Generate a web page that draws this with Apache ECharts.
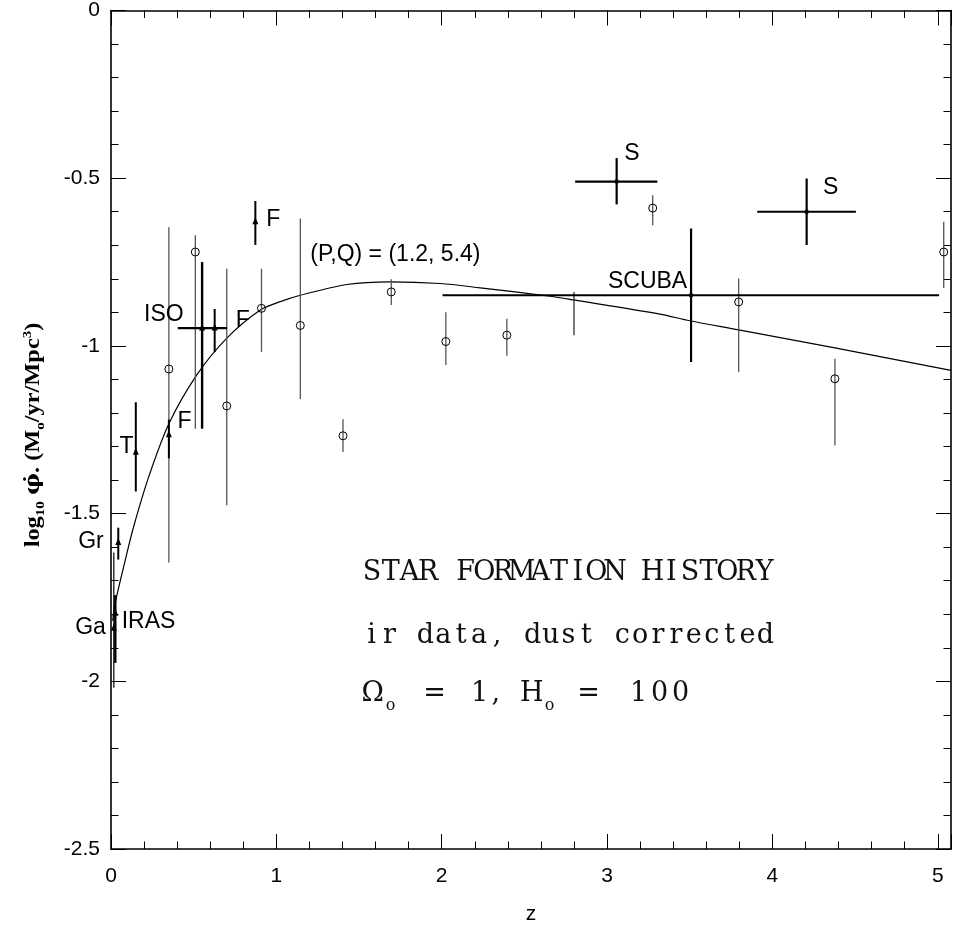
<!DOCTYPE html>
<html><head><meta charset="utf-8">
<script src="https://cdn.jsdelivr.net/npm/echarts/dist/echarts.min.js"></script>
<style>html,body{margin:0;padding:0;background:#fff}#c{width:954px;height:930px}</style>
</head><body><div id="c"></div>
<script>
// ---- axis ranges / ticks ----
const xMin = 0, xMax = 5.08, xStep = 1;
const yMin = -2.5, yMax = 0, yStep = 0.5;

// ---- open circles (z, value, error bar low/high) ----
const circZ  = [0.35, 0.51, 0.70, 0.91, 1.145, 1.403, 1.695, 2.025, 2.394, 3.276, 3.796, 4.378, 5.036];
const circV  = [-1.069, -0.720, -1.179, -0.888, -0.939, -1.268, -0.839, -0.987, -0.968, -0.589, -0.869, -1.098, -0.720];
const circLo = [-1.646, -1.247, -1.475, -1.018, -1.158, -1.316, -0.878, -1.057, -1.029, -0.640, -1.078, -1.297, -0.827];
const circHi = [-0.646, -0.670, -0.770, -0.770, -0.620, -1.219, -0.801, -0.900, -0.919, -0.551, -0.799, -1.038, -0.630];

// ---- bare error bar (no marker) ----
const bareZ = [2.80], bareLo = [-0.968], bareHi = [-0.839];

// ---- filled triangles ----
const triZ   = [0.15, 0.35, 0.873, 0.044, 0.017, 0.026, 0.551, 0.627];
const triV   = [-1.317, -1.265, -0.630, -1.586, -1.842, -1.797, -0.947, -0.947];
const triLo  = [-1.434, -1.335, -0.699, -1.637, -2.019, -1.945, -1.247, -1.018];
const triHi  = [-1.168, -1.220, -0.568, -1.542, -1.616, -1.743, -0.750, -0.890];
const triZLo = [0.15, 0.35, 0.873, 0.044, 0.017, 0.026, 0.404, 0.627];
const triZHi = [0.15, 0.35, 0.873, 0.044, 0.017, 0.026, 0.702, 0.627];
const triW   = [2, 2, 2, 2, 1.2, 2.4, 2.4, 2];

// ---- dot points with x and y bars (S, S, SCUBA) ----
const dotZ   = [3.058, 4.207, 3.508];
const dotV   = [-0.510, -0.600, -0.849];
const dotLo  = [-0.578, -0.699, -1.048];
const dotHi  = [-0.440, -0.501, -0.650];
const dotZLo = [2.807, 3.908, 2.005];
const dotZHi = [3.304, 4.505, 5.008];

// ---- model curve (P,Q) = (1.2, 5.4) ----
const curveZ = [0.01, 0.027, 0.088, 0.138, 0.229, 0.35, 0.521, 0.702, 0.903, 1.024, 1.145, 1.427, 1.689, 1.99, 2.233, 2.656, 2.80, 3.32, 3.50, 3.796, 4.378, 5.08];
const curveV = [-1.82, -1.763, -1.635, -1.537, -1.389, -1.232, -1.085, -0.976, -0.893, -0.868, -0.849, -0.817, -0.809, -0.814, -0.827, -0.852, -0.863, -0.905, -0.925, -0.952, -1.006, -1.073];

// ---- point labels ----
const labText = ['S', 'S', '(P,Q) = (1.2, 5.4)', 'SCUBA', 'ISO', 'F', 'F', 'T', 'F', 'Gr', 'Ga', 'IRAS'];
const labZ    = [3.151, 4.353, 1.205, 3.245, 0.320, 0.797, 0.444, 0.094, 0.982, -0.121, -0.124, 0.227];
const labV    = [-0.428, -0.528, -0.729, -0.807, -0.906, -0.924, -1.225, -1.301, -0.624, -1.584, -1.841, -1.822];
const labAlign= ['center','center','left','center','center','center','center','center','center','center','center','center'];

// ---- annotation block ----
const note1 = 'STAR FORMATION HISTORY';
const note2 = 'ir data, dust corrected';
const note3 = ['Ω', 'o', '=', '1', ',', 'H', 'o', '=', '1', '0', '0'];
const noteZ = 1.522;
const noteV = [-1.678, -1.864, -2.038];

const chart = echarts.init(document.getElementById('c'), null, {renderer: 'canvas'});

function barRender(style) {
  return function (params, api) {
    const z = api.value(0), v = api.value(1), zl = api.value(2), zh = api.value(3), vl = api.value(4), vh = api.value(5);
    const lw = style.widths ? style.widths[params.dataIndex] : style.lineWidth;
    const ch = [];
    if (vl !== vh) {
      const a = api.coord([z, vl]), b = api.coord([z, vh]);
      ch.push({type: 'line', shape: {x1: a[0], y1: a[1], x2: b[0], y2: b[1]}, style: {stroke: style.color, lineWidth: lw}});
    }
    if (zl !== zh) {
      const a = api.coord([zl, v]), b = api.coord([zh, v]);
      ch.push({type: 'line', shape: {x1: a[0], y1: a[1], x2: b[0], y2: b[1]}, style: {stroke: style.color, lineWidth: lw}});
    }
    const c = api.coord([z, v]);
    if (style.marker === 'circle') {
      ch.push({type: 'circle', shape: {cx: c[0], cy: c[1], r: 4}, style: {fill: null, stroke: '#000', lineWidth: 1}});
    } else if (style.marker === 'tri') {
      ch.push({type: 'polygon', shape: {points: [[c[0], c[1] - 4.5], [c[0] - 3, c[1] + 2.5], [c[0] + 3, c[1] + 2.5]]}, style: {fill: '#000'}});
    } else if (style.marker === 'dot') {
      ch.push({type: 'circle', shape: {cx: c[0], cy: c[1], r: 2.2}, style: {fill: '#000'}});
    }
    return {type: 'group', children: ch};
  };
}

const circData = circZ.map((z, i) => [z, circV[i], z, z, circLo[i], circHi[i]]);
const bareData = bareZ.map((z, i) => [z, (bareLo[i] + bareHi[i]) / 2, z, z, bareLo[i], bareHi[i]]);
const triData  = triZ.map((z, i) => [z, triV[i], triZLo[i], triZHi[i], triLo[i], triHi[i]]);
const dotData  = dotZ.map((z, i) => [z, dotV[i], dotZLo[i], dotZHi[i], dotLo[i], dotHi[i]]);

// annotation text layout (serif glyphs laid out on a fixed pitch per line)
const NOTE_FONT = '27px "DejaVu Serif"';
function noteRender(params, api) {
  const i = params.dataIndex;
  const c = api.coord([api.value(0), api.value(1)]);
  const ch = [];
  function put(t, dx, dy, font) {
    ch.push({type: 'text', x: c[0] + dx, y: c[1] + dy,
      style: {text: t, fill: '#111', font: font || NOTE_FONT, align: 'center', verticalAlign: 'middle'}});
  }
  if (i === 0 || i === 1) {
    const s = i === 0 ? note1 : note2;
    const pitch = i === 0 ? 18.7 : 17.9;
    for (let k = 0; k < s.length; k++) if (s[k] !== ' ') put(s[k], (k + 0.5) * pitch, 0);
  } else {
    const dx = [10, 28, 72, 117, 133, 169, 187, 226, 276, 297, 318];
    for (let k = 0; k < note3.length; k++) {
      const sub = (k === 1 || k === 6);
      put(note3[k], dx[k], sub ? 12 : 0, sub ? '16px "DejaVu Serif"' : NOTE_FONT);
    }
  }
  return {type: 'group', children: ch};
}

const axisCommon = {
  axisLine: {show: true, onZero: false, lineStyle: {color: '#000', width: 1.6}},
  axisTick: {show: true, inside: true, length: 15, lineStyle: {color: '#000', width: 1}},
  minorTick: {show: true, splitNumber: 5, length: 7.5, lineStyle: {color: '#000', width: 1}},
  splitLine: {show: false},
  minorSplitLine: {show: false}
};

const option = {
  backgroundColor: '#fff',
  animation: false,
  grid: {left: 111, right: 2, top: 9, bottom: 75, show: false},
  graphic: [{
    type: 'text', x: 34, y: 435, rotation: Math.PI / 2, scaleX: 1.16,
    style: {
      text: '{a|log}{s|10}{a| }{f|φ̇}{a|. (M}{s|o}{a|/yr/Mpc}{p|3}{a|)}',
      align: 'center', verticalAlign: 'middle', fill: '#000',
      rich: {
        a: {fontSize: 21, fontWeight: 'bold', fontFamily: 'Liberation Serif', fill: '#000', lineHeight: 26},
        f: {fontSize: 21, fontWeight: 'bold', fontFamily: 'DejaVu Serif', fill: '#000', lineHeight: 26},
        s: {fontSize: 13, fontWeight: 'bold', fontFamily: 'Liberation Serif', fill: '#000', verticalAlign: 'bottom', lineHeight: 14},
        p: {fontSize: 13, fontWeight: 'bold', fontFamily: 'Liberation Serif', fill: '#000', verticalAlign: 'top', lineHeight: 14}
      }
    }
  }],
  xAxis: [
    Object.assign({type: 'value', min: xMin, max: xMax, interval: xStep, position: 'bottom',
      axisLabel: {show: true, color: '#000', fontSize: 21, fontFamily: 'Liberation Sans', margin: 17,
        formatter: v => (Math.abs(v - Math.round(v)) < 1e-9 ? String(Math.round(v)) : '')},
      name: 'z', nameLocation: 'middle', nameGap: 55,
      nameTextStyle: {color: '#000', fontSize: 21, fontFamily: 'Liberation Sans'}}, axisCommon),
    Object.assign({type: 'value', min: xMin, max: xMax, interval: xStep, position: 'top',
      axisLabel: {show: false}}, axisCommon)
  ],
  yAxis: [
    Object.assign({type: 'value', min: yMin, max: yMax, interval: yStep, position: 'left',
      axisLabel: {show: true, color: '#000', fontSize: 21, fontFamily: 'Liberation Sans', margin: 11}}, axisCommon),
    Object.assign({type: 'value', min: yMin, max: yMax, interval: yStep, position: 'right',
      axisLabel: {show: false}}, axisCommon)
  ],
  series: [
    {type: 'line', data: curveZ.map((z, i) => [z, curveV[i]]), smooth: 0.3, showSymbol: false, symbol: 'none',
      lineStyle: {color: '#000', width: 1.2}, clip: true, z: 3},
    {type: 'custom', renderItem: barRender({color: '#555', lineWidth: 1.3, marker: 'circle'}), data: circData, clip: false, z: 4},
    {type: 'custom', renderItem: barRender({color: '#333', lineWidth: 1.3, marker: 'none'}), data: bareData, clip: false, z: 4},
    {type: 'custom', renderItem: barRender({color: '#000', widths: triW, marker: 'tri'}), data: triData, clip: false, z: 5},
    {type: 'custom', renderItem: barRender({color: '#000', lineWidth: 2.2, marker: 'dot'}), data: dotData, clip: false, z: 5},
    {type: 'custom', clip: false, z: 6,
      data: labZ.map((z, i) => [z, labV[i]]),
      renderItem: function (params, api) {
        const c = api.coord([api.value(0), api.value(1)]);
        return {type: 'text', x: c[0], y: c[1], style: {text: labText[params.dataIndex], fill: '#000',
          font: '23px "Liberation Sans"', align: labAlign[params.dataIndex], verticalAlign: 'middle'}};
      }},
    {type: 'custom', clip: false, z: 6,
      data: noteV.map(v => [noteZ, v]),
      renderItem: noteRender}
  ]
};
chart.setOption(option);
</script></body></html>
